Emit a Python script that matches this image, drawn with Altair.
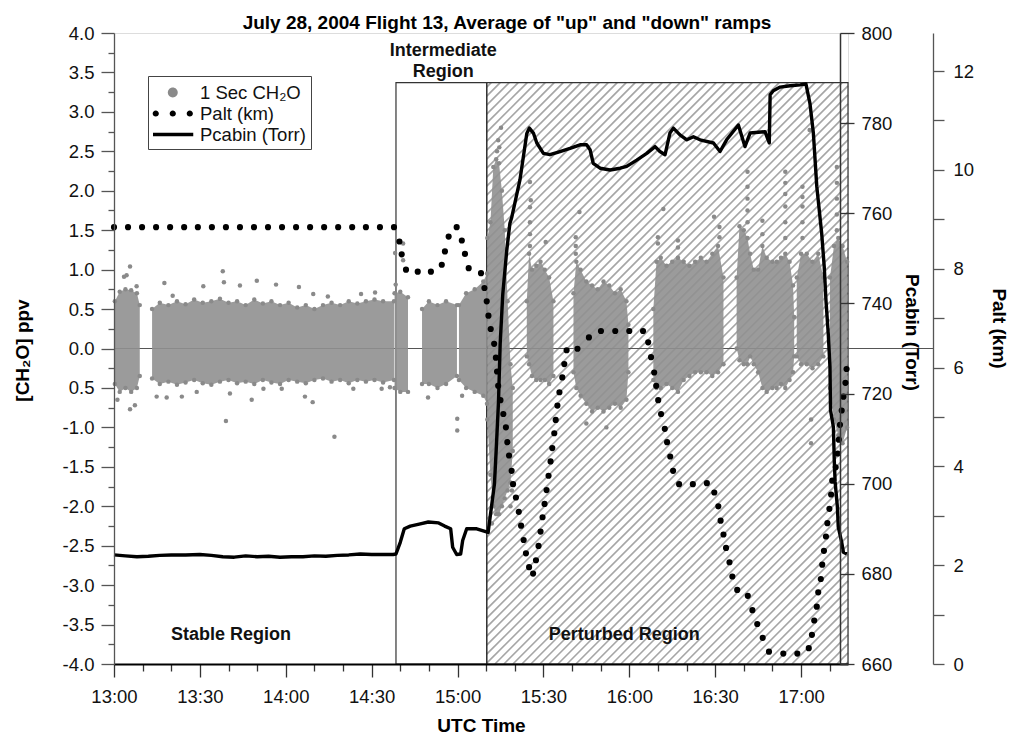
import altair as alt
import numpy as np
import pandas as pd

# ---------------------------------------------------------------------------
# Data (time in minutes after 13:00 UTC)
# ---------------------------------------------------------------------------

# Palt (km): one marker per recorded point
PALT_T = [0, 4.9, 9.8, 14.7, 19.6, 24.5, 29.3, 34.2, 39.1, 44.0, 48.9, 53.8, 58.7,
          63.6, 68.5, 73.4, 78.3, 83.2, 88.0, 92.9, 97.8,
          99.7, 100.5, 102.0, 106.1, 110.7, 114.5, 115.6, 116.9, 119.7, 121.5, 122.6,
          123.9, 128.2, 129.4, 130.2, 130.8, 131.6, 132.8, 133.4, 133.8, 134.2, 135.0,
          136.0, 136.9, 137.4, 138.0, 138.9, 139.4, 140.4, 141.4, 142.2, 143.1, 143.9,
          145.0, 146.4, 147.4, 148.3, 149.0, 149.7, 150.4, 151.1, 151.8, 152.5, 153.1,
          153.8, 154.3, 154.9, 155.6, 156.6, 157.3, 158.1, 161.9, 165.9, 170.1, 175.1,
          180.0, 184.8, 186.6, 187.6, 188.7, 189.4, 190.1, 191.1, 192.4, 193.2, 194.3,
          195.3, 197.4, 202.2, 207.1, 209.7, 211.1, 211.9, 212.9, 213.8, 215.0, 216.0,
          217.7, 221.4, 223.0, 224.7, 226.6, 228.8, 233.8, 238.7, 242.7, 243.8, 244.6,
          245.5, 246.0, 246.9, 247.4, 248.0, 248.7, 249.2, 249.9, 250.5, 250.9, 252.1,
          252.8, 253.2, 253.6, 254.2, 254.8, 255.5, 255.9]
PALT_KM = [8.84] * 21 + [
          8.55, 8.29, 7.98, 7.94, 7.94, 8.08, 8.35, 8.65, 8.84, 8.57, 8.30,
          8.01, 7.91, 7.61, 7.34, 7.05, 6.78, 6.48, 6.20, 5.92, 5.63, 5.34,
          5.06, 4.79, 4.49, 4.22, 3.91, 3.64, 3.37, 3.08, 2.80, 2.51, 2.24,
          1.96, 1.83, 2.10, 2.39, 2.68, 2.97, 3.24, 3.52, 3.81, 4.10, 4.37,
          4.67, 4.94, 5.23, 5.50, 5.80, 6.07, 6.35, 6.38, 6.61, 6.74, 6.74,
          6.74, 6.74, 6.51, 6.21, 5.90, 5.63, 5.34, 5.06, 4.76, 4.49, 4.20,
          3.91, 3.64, 3.64, 3.66, 3.47, 3.19, 2.90, 2.62, 2.35, 2.06, 1.77,
          1.50, 1.38, 1.09, 0.81, 0.53, 0.25, 0.21, 0.21, 0.32, 0.59, 0.88,
          1.16, 1.45, 1.72, 2.01, 2.29, 2.58, 2.85, 3.14, 3.43, 3.71, 3.98,
          4.26, 4.54, 4.84, 5.13, 5.41, 5.69, 5.97]

# Pcabin (Torr)
PCAB_T = [0, 4, 8, 12, 16, 20, 25, 30, 34, 38, 42, 46, 50, 54, 58, 62, 66, 70, 74,
          78, 82, 86, 90, 94, 97.5,
          98.5, 100.0, 101.4, 103.5, 107.0, 109.8, 113.4, 115.5, 117.6, 118.3, 119.7,
          121.1, 121.8, 123.2, 126.7, 130.7, 131.7, 132.9, 133.5, 134.3, 134.9, 135.8,
          137.2, 138.3, 138.9, 141.8, 144.2, 145.1, 146.5, 147.7, 150.0, 152.3, 155.8,
          159.3, 162.8, 165.1, 166.3, 167.4, 169.8, 173.3, 176.8, 179.1, 182.6, 186.1,
          189.0, 190.7, 192.5, 194.2, 195.4, 197.7, 200.1, 202.4, 204.7, 209.4, 211.7,
          214.0, 218.1, 220.4, 222.2, 227.4, 228.9, 229.2, 230.3, 232.7, 236.2, 239.7,
          241.7, 243.1, 244.3, 245.5, 247.2, 248.1, 248.7, 249.5, 250.1, 250.3, 251.3,
          251.6, 251.9, 252.7, 253.0, 254.2, 254.8, 256.0]
PCAB_TORR = [684.2, 684.0, 683.8, 683.9, 684.1, 684.2, 684.2, 684.3, 684.1, 683.8,
             683.7, 684.0, 683.8, 683.9, 683.7, 683.8, 683.8, 684.0, 683.9, 684.1,
             684.2, 684.4, 684.3, 684.3, 684.3,
             684.4, 687.0, 690.0, 690.6, 691.1, 691.5, 691.3, 690.6, 690.0, 685.9,
             684.3, 684.4, 687.4, 690.0, 690.0, 689.2, 694.1, 700.0, 707.4, 718.0,
             731.1, 742.0, 751.8, 757.8, 759.0, 767.4, 777.7, 778.9, 777.8, 775.6,
             773.3, 773.0, 773.7, 774.4, 775.2, 775.2, 774.1, 771.1, 770.0, 769.6,
             770.0, 770.4, 771.8, 773.3, 774.8, 773.7, 773.0, 777.8, 778.9, 777.4,
             776.3, 777.0, 776.3, 775.6, 773.7, 776.3, 779.6, 774.8, 777.8, 778.1,
             775.6, 786.3, 787.2, 788.0, 788.3, 788.5, 788.7, 784.4, 777.8, 765.9,
             755.6, 748.1, 740.7, 733.3, 725.9, 716.3, 712.6, 705.2, 700.4, 694.8,
             690.4, 687.0, 684.8, 684.4]

# 1 Sec CH2O: dense core of the 1-second record, per continuous stretch
CORE_SEG = ([1] * 6 + [2] * 29 + [3] * 3 + [4] * 5 + [5] * 5 + [6] * 10 + [7] * 8
            + [8] * 12 + [9] * 14 + [10] * 16 + [11] * 6 + [12] * 5)
CORE_T = [0.3, 2, 4, 6, 8, 9.0,
          13.3, 16, 19, 22, 25, 28, 31, 34, 37, 40, 43, 46, 49, 52, 55, 58, 61, 64,
          67, 70, 73, 76, 79, 82, 85, 88, 91, 94, 97.8,
          98, 100, 102.7,
          107.6, 110, 113, 116, 119.8,
          120.5, 123, 126, 129, 130.3,
          130.4, 131.5, 132.5, 133.5, 134.5, 135.5, 136.5, 137.5, 138.5, 139.3,
          144.2, 145.0, 146.0, 147.5, 149.0, 150.5, 152.0, 153.5,
          160.5, 161.5, 163, 165, 167, 169, 171, 173, 175, 177, 179, 179.7,
          188.4, 189.5, 191, 193, 195, 197, 199, 201, 203, 205, 207, 209, 211, 212.9,
          217.5, 218.5, 220, 221.3, 222.2, 223.5, 225, 226.5, 228, 230, 231.5, 233,
          234.5, 236, 237.2, 237.6,
          238.5, 240, 242, 244, 246, 247.8,
          250.1, 251.5, 253, 254.5, 256.1]
CORE_HI = [0.6, 0.72, 0.75, 0.74, 0.7, 0.55,
           0.5, 0.58, 0.55, 0.6, 0.56, 0.62, 0.58, 0.6, 0.63, 0.58, 0.6, 0.55, 0.62,
           0.57, 0.6, 0.55, 0.58, 0.52, 0.55, 0.5, 0.55, 0.58, 0.55, 0.6, 0.57, 0.6,
           0.62, 0.6, 0.6,
           0.7, 0.72, 0.65,
           0.5, 0.6, 0.55, 0.6, 0.55,
           0.55, 0.7, 0.75, 0.85, 0.95,
           1.4, 1.6, 2.3, 2.4, 2.35, 2.0, 1.5, 0.6, -0.2, -0.5,
           0.6, 1.2, 1.0, 1.05, 1.1, 1.0, 0.9, 0.6,
           0.7, 1.1, 1.0, 0.85, 0.8, 0.75, 0.85, 0.8, 0.7, 0.75, 0.6, 0.3,
           0.5, 1.1, 1.15, 1.05, 1.1, 1.15, 1.1, 1.05, 1.1, 1.15, 1.1, 1.2, 1.3, 0.9,
           0.9, 1.55, 1.5, 1.4, 1.2, 1.0, 1.0, 1.3, 1.15, 1.1, 1.1, 1.15, 1.2, 1.1,
           0.8, 0.4,
           0.9, 1.2, 1.2, 1.1, 1.2, 0.9,
           0.9, 1.3, 1.4, 1.3, 1.1]
CORE_LO = [-0.45, -0.55, -0.5, -0.55, -0.5, -0.35,
           -0.38, -0.45, -0.42, -0.46, -0.43, -0.4, -0.44, -0.46, -0.42, -0.4, -0.44,
           -0.42, -0.45, -0.4, -0.43, -0.45, -0.4, -0.42, -0.44, -0.4, -0.38, -0.42,
           -0.4, -0.44, -0.4, -0.42, -0.4, -0.43, -0.4,
           -0.5, -0.55, -0.55,
           -0.45, -0.45, -0.5, -0.45, -0.35,
           -0.4, -0.5, -0.55, -0.6, -0.7,
           -0.9, -1.6, -2.0, -2.1, -2.1, -2.0, -1.9, -1.8, -1.7, -1.3,
           -0.1, -0.2, -0.35, -0.4, -0.4, -0.4, -0.45, -0.35,
           -0.3, -0.5, -0.6, -0.7, -0.8, -0.75, -0.8, -0.75, -0.7, -0.75, -0.65, -0.3,
           -0.4, -0.5, -0.5, -0.45, -0.5, -0.55, -0.4, -0.35, -0.3, -0.3, -0.3, -0.35,
           -0.3, -0.2,
           0.0, -0.15, -0.2, -0.2, -0.1, -0.2, -0.3, -0.5, -0.55, -0.5, -0.5, -0.45,
           -0.5, -0.4, -0.3, -0.1,
           -0.1, -0.2, -0.2, -0.25, -0.2, -0.1,
           -0.5, -0.9, -1.1, -1.2, -1.0]

# 1 Sec CH2O: scattered individual readings outside the core
DOT_T = [3.5, 4.4, 5.6, 7.9, 17.6, 20.5, 31.2, 38.0, 38.4, 44.0, 49.9, 56.6, 64.6,
         69.6, 74.7, 86.3, 91.2, 98.2, 98.4, 1.2, 5.6, 7.3, 14.9, 18.4, 23.7, 28.9,
         39.1, 40.5, 48.1, 52.2, 58.6, 66.7, 69.4, 77.0, 83.6, 93.5, 96.4,
         101.0, 101.0, 119.9, 119.9, 109.7, 121.6,
         133.8, 134.2, 134.6, 135.2, 132.0, 138.5, 139.0,
         145.3, 145.3, 145.3, 145.3, 145.3, 145.6, 150.8,
         161.3, 161.3, 161.3, 162.6, 165.0, 172.0,
         190.0, 190.0, 191.9, 197.0, 197.0, 209.6, 211.5, 211.5,
         221.3, 221.3, 221.3, 221.3, 221.3, 226.5, 226.5,
         234.5, 234.5, 234.5, 234.5, 234.5, 234.5,
         240.5, 240.5, 240.5, 240.5, 240.5, 243.0, 243.5, 243.5,
         252.5, 252.5, 252.5, 252.5, 252.5]
DOT_V = [0.91, 0.93, 1.04, 0.79, 0.83, 0.67, 0.79, 0.98, 0.84, 0.80, 0.86, 0.81, 0.78,
         0.69, 0.66, 0.69, 0.71, 1.21, 0.81, -0.65, -0.77, -0.72, -0.61, -0.62, -0.61,
         -0.55, -0.92, -0.57, -0.65, -0.51, -0.51, -0.61, -0.68, -1.12, -0.51, -0.51,
         -0.49,
         1.33, 1.12, -1.04, -0.89, -0.62, -0.60,
         2.50, 2.64, 2.55, 2.80, -2.22, -2.0, -1.8,
         1.30, 1.45, 1.60, 1.79, 2.11, 1.88, 1.35,
         1.20, 1.30, 1.41, 1.73, -0.95, -1.0,
         1.41, 1.33, 1.77, 1.37, 1.28, 1.67, 1.54, 1.41,
         1.60, 1.75, 1.90, 2.05, 2.24, 1.45, 1.62,
         1.40, 1.60, 1.80, 1.96, 2.10, 2.24,
         1.40, 1.60, 1.80, 1.92, 2.05, 2.77, -0.9, -1.2,
         1.50, 1.70, 1.90, 2.10, 2.30]

# Region boxes and labels
REGION_NAMES = ["Intermediate", "Perturbed"]
REGION_T0 = [98.5, 130.2]
REGION_T1 = [130.2, 256.4]
REGION_TOP = 3.37
LABEL_TEXT = ["Stable Region", "Intermediate", "Region", "Perturbed Region"]
LABEL_T = [40.9, 115.0, 115.0, 178.2]
LABEL_V = [-3.63, 3.77, 3.50, -3.63]

SERIES = ["1 Sec CH\u2082O", "Palt (km)", "Pcabin (Torr)"]

# ---------------------------------------------------------------------------
# Layout / style
# ---------------------------------------------------------------------------
PLOT_W, PLOT_H = 734, 631
T_MAX = 256.4
PCAB_OFFSET = -8
PALT_OFFSET = 85
FONT = "Liberation Sans"
GRAY = "#8a8a8a"
HATCH_STEP_PX = 9.0

xs = alt.Scale(domain=[0, T_MAX], nice=False, zero=False)
ys_ch2o = alt.Scale(domain=[-4, 4], nice=False, zero=False)
ys_pcab = alt.Scale(domain=[660, 800], nice=False, zero=False)
ys_palt = alt.Scale(domain=[0, 12.77], nice=False, zero=False)

# diagonal hatch inside the perturbed box, 45 degrees on screen
kx = PLOT_W / T_MAX
ky = PLOT_H / 8.0
bt0, bt1, bv0, bv1 = REGION_T0[1], REGION_T1[1], -4.0, REGION_TOP
segs = []
c_lo = kx * bt0 - ky * bv1
c_hi = kx * bt1 - ky * bv0
for c in np.arange(c_lo + HATCH_STEP_PX / 2, c_hi, HATCH_STEP_PX):
    # line kx*t - ky*v = c ; start on bottom/left edge, end on top/right edge
    ta = (c + ky * bv0) / kx
    if ta >= bt0:
        p0 = (ta, bv0)
    else:
        p0 = (bt0, (kx * bt0 - c) / ky)
    tb = (c + ky * bv1) / kx
    if tb <= bt1:
        p1 = (tb, bv1)
    else:
        p1 = (bt1, (kx * bt1 - c) / ky)
    segs.append({"t": p0[0], "v": p0[1], "t2": p1[0], "v2": p1[1]})
hatch_df = pd.DataFrame(segs)

minor_x = [m for m in range(0, 251, 10) if m % 30 != 0]
minor_y = [v / 4 for v in range(-16, 17) if v % 2 != 0]

time_expr = ("(13 + floor(datum.value / 60)) + ':' + "
             "(datum.value % 60 < 10 ? '0' : '') + (datum.value % 60)")
ch2o_expr = ("datum.value == -0.5 ? '0.5' : "
             "(datum.value < 0 ? '-' : '') + format(abs(datum.value), '.1f')")

AX = dict(labelFont=FONT, titleFont=FONT, labelColor="#111", titleColor="#000",
          labelFlush=False, zindex=1)

no_axis = None

hatch = alt.Chart(hatch_df).mark_rule(color="#a6a6a6", strokeWidth=1.7).encode(
    x=alt.X("t:Q", scale=xs, axis=alt.Axis(values=minor_x, labels=False, domain=False,
                                           orient="bottom", tickSize=7,
                                           tickColor="#333", tickWidth=1.3,
                                           title=None, grid=False, zindex=1)),
    x2="t2:Q",
    y=alt.Y("v:Q", scale=ys_ch2o, axis=alt.Axis(values=minor_y, labels=False,
                                                domain=False, tickSize=6, orient="left",
                                                tickColor="#555", tickWidth=1.3,
                                                title=None, grid=False, zindex=1)),
    y2="v2:Q",
)

box_df = pd.DataFrame({"name": REGION_NAMES, "t0": REGION_T0, "t1": REGION_T1,
                       "top": [REGION_TOP] * 2, "bottom": [-4.0] * 2})
boxes = alt.Chart(box_df).mark_rect(fill=None, fillOpacity=0, stroke="#333",
                                    strokeWidth=1.2).encode(
    x=alt.X("t0:Q", scale=xs, axis=no_axis), x2="t1:Q",
    y=alt.Y("bottom:Q", scale=ys_ch2o, axis=no_axis), y2="top:Q",
)

zero_rule = alt.Chart(pd.DataFrame({"v": [0.0]})).mark_rule(
    color="#555", strokeWidth=1, clip=False).encode(
    x=alt.value(0), x2=alt.value(PLOT_W + PALT_OFFSET),
    y=alt.Y("v:Q", scale=ys_ch2o, axis=no_axis),
)

core_df = pd.DataFrame({"seg": CORE_SEG, "t": CORE_T, "lo": CORE_LO, "hi": CORE_HI})
core = alt.Chart(core_df).mark_area(color="#909090", opacity=0.9).encode(
    x=alt.X("t:Q", scale=xs, axis=no_axis),
    y=alt.Y("lo:Q", scale=ys_ch2o, axis=no_axis), y2="hi:Q",
    detail="seg:N",
)
edge_df = pd.concat([core_df.assign(v=core_df["lo"]), core_df.assign(v=core_df["hi"])])
core_edges = alt.Chart(edge_df).mark_circle(color=GRAY, size=20, opacity=1).encode(
    x=alt.X("t:Q", scale=xs, axis=no_axis),
    y=alt.Y("v:Q", scale=ys_ch2o, axis=no_axis),
)

dots_df = pd.DataFrame({"t": DOT_T, "v": DOT_V})
dots = alt.Chart(dots_df).mark_circle(color=GRAY, size=20, opacity=1).encode(
    x=alt.X("t:Q", scale=xs, axis=alt.Axis(
        values=list(range(0, 241, 30)), labelExpr=time_expr, orient="bottom",
        tickSize=13, labelFontSize=18.5, labelPadding=25, labelBaseline="alphabetic",
        domainColor="#000", domainWidth=2, tickColor="#333", tickWidth=1.3,
        title="UTC Time", titleFontSize=19, titleFontWeight="bold",
        titleY=67, titleBaseline="alphabetic", grid=False, **AX)),
    y=alt.Y("v:Q", scale=ys_ch2o, axis=alt.Axis(
        values=[v / 2 for v in range(-8, 9)], labelExpr=ch2o_expr, orient="left",
        tickSize=13, labelFontSize=18.5, labelPadding=7, domainColor="#555",
        domainWidth=1.3, tickColor="#555", tickWidth=1.3,
        title="[CH\u2082O] ppv", titleFontSize=19, titleFontWeight="bold",
        titleAngle=-90, titleX=-92, titleY=317, titleBaseline="middle",
        grid=False, **AX)),
)

pcab_df = pd.DataFrame({"t": PCAB_T, "p": PCAB_TORR})
pcab = alt.Chart(pcab_df).mark_line(color="#000", strokeWidth=3.4,
                                    strokeJoin="round").encode(
    x=alt.X("t:Q", scale=xs, axis=no_axis),
    y=alt.Y("p:Q", scale=ys_pcab, axis=alt.Axis(
        orient="right", offset=PCAB_OFFSET, values=list(range(660, 801, 20)),
        tickSize=14, labelPadding=7, labelFontSize=18.5, domainColor="#333",
        domainWidth=1.5, tickColor="#333", tickWidth=1.3,
        title="Pcabin (Torr)", titleFontSize=19, titleFontWeight="bold",
        titleAngle=90, titleX=71, titleY=299, titleBaseline="middle",
        grid=False, **AX)),
)

palt_df = pd.DataFrame({"t": PALT_T, "km": PALT_KM})
palt = alt.Chart(palt_df).mark_circle(color="#000", size=38, opacity=1).encode(
    x=alt.X("t:Q", scale=xs, axis=no_axis),
    y=alt.Y("km:Q", scale=ys_palt, axis=alt.Axis(
        orient="right", offset=PALT_OFFSET, values=list(range(0, 13)),
        labelExpr="datum.value % 2 == 0 ? datum.label : ''",
        tickSize=11, labelPadding=9, labelFontSize=18.5, domainColor="#555",
        domainWidth=1.3, tickColor="#555", tickWidth=1.3,
        title="Palt (km)", titleFontSize=19, titleFontWeight="bold",
        titleAngle=90, titleX=65, titleY=295, titleBaseline="middle",
        grid=False, **AX)),
)

label_df = pd.DataFrame({"text": LABEL_TEXT, "t": LABEL_T, "v": LABEL_V})
labels = alt.Chart(label_df).mark_text(font=FONT, fontSize=18, fontWeight="bold",
                                       color="#111", baseline="middle",
                                       align="center").encode(
    x=alt.X("t:Q", scale=xs, axis=no_axis),
    y=alt.Y("v:Q", scale=ys_ch2o, axis=no_axis),
    text="text:N",
)

# legend symbols: gray dot, row of black dots, thick black line
def circ(cx, r):
    return (f"M{cx - r:.3f},0A{r},{r} 0 1,0 {cx + r:.3f},0"
            f"A{r},{r} 0 1,0 {cx - r:.3f},0Z")

SYM_DOT = circ(0.72, 0.43)
SYM_DOTS = circ(-0.76, 0.27) + circ(0.72, 0.27) + circ(2.2, 0.27)
SYM_LINE = "M-1,-0.15H2.5V0.15H-1Z"

legend_df = pd.DataFrame({"series": SERIES, "t": [0.0] * 3, "v": [0.0] * 3})
legend_layer = alt.Chart(legend_df).mark_point(filled=True, opacity=0).encode(
    x=alt.X("t:Q", scale=xs, axis=no_axis),
    y=alt.Y("v:Q", scale=ys_ch2o, axis=no_axis),
    color=alt.Color("series:N", scale=alt.Scale(domain=SERIES,
                                                range=[GRAY, "#000", "#000"]),
                    legend=alt.Legend(
                        orient="none", legendX=34, legendY=43, title=None,
                        padding=5, symbolSize=529, symbolOpacity=1,
                        symbolStrokeWidth=0, labelOffset=24, rowPadding=0,
                        labelFont=FONT, labelFontSize=18.5, labelColor="#111",
                        fillColor="#fff", strokeColor="#444",
                        labelLimit=300)),
    shape=alt.Shape("series:N", scale=alt.Scale(domain=SERIES,
                                                range=[SYM_DOT, SYM_DOTS, SYM_LINE]),
                    legend=None),
)

chart = alt.layer(
    hatch, boxes, zero_rule, core, core_edges, dots, pcab, palt, labels, legend_layer
).resolve_scale(y="independent").resolve_axis(x="independent", y="independent").properties(
    width=PLOT_W, height=PLOT_H,
    title=alt.TitleParams(
        'July 28, 2004 Flight 13, Average of "up" and "down" ramps',
        font=FONT, fontSize=19, fontWeight="bold", color="#000",
        anchor="middle", dx=26, dy=28, offset=4, baseline="alphabetic"),
    padding={"left": 114, "top": 33, "right": 1010 - 114 - PLOT_W,
             "bottom": 734 - 33 - PLOT_H},
    autosize=alt.AutoSizeParams(type="none"),
).configure_view(stroke=None).configure(background="#ffffff")

chart.save("out.html", embed_options={"renderer": "svg", "actions": False})
